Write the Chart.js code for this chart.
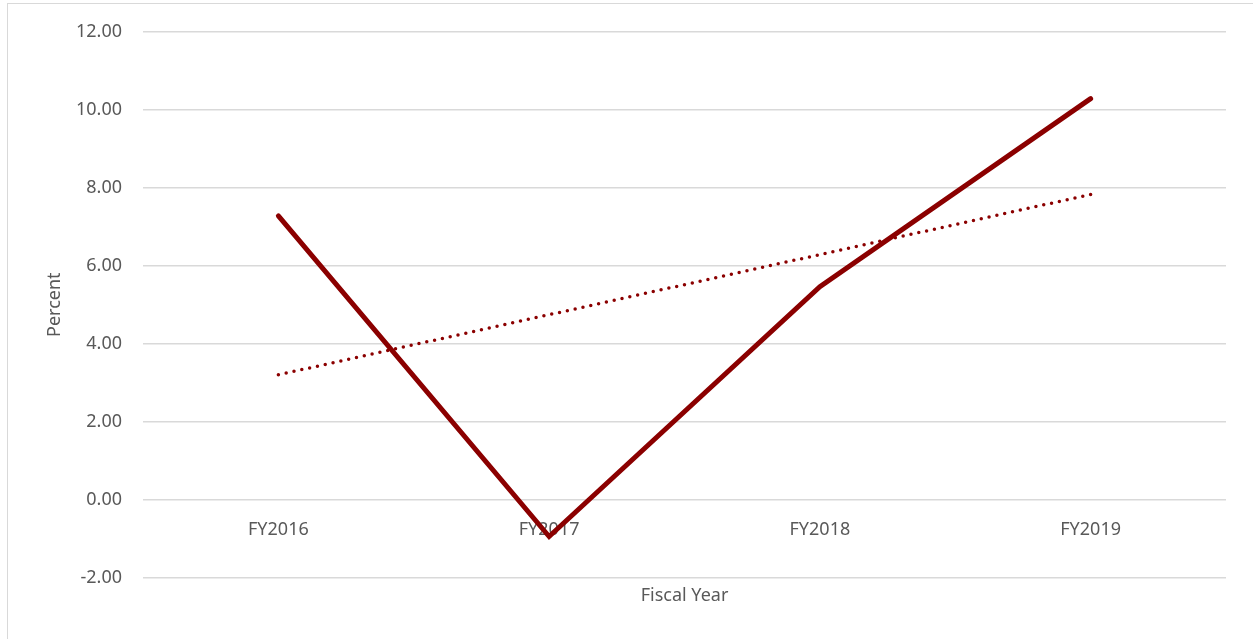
<!DOCTYPE html>
<html>
<head>
<meta charset="UTF-8">
<script src="https://cdn.jsdelivr.net/npm/chart.js@4.4.0/dist/chart.umd.min.js"></script>
<title>Percent by Fiscal Year</title>
<style>
  html, body { margin: 0; padding: 0; background: #fff; overflow: hidden; }
  #frame { position: absolute; left: 7px; top: 3px; width: 1260px; height: 650px; border: 1px solid #d9d9d9; }
  #wrap { position: absolute; left: 0; top: 0; width: 1253px; height: 639px; }
</style>
</head>
<body>
<div id="frame"></div>
<div id="wrap"><canvas id="chart"></canvas></div>
<script>
// values
var years = ["FY2016", "FY2017", "FY2018", "FY2019"];
var percent = [7.28, -0.95, 5.46, 10.29];
// linear trendline, only its two ends
var trend = [3.20, null, null, 7.83];

var grey = "#595959";
var red = "#8B0000";
Chart.defaults.font.family = "'Noto Sans', sans-serif";
Chart.defaults.font.size = 18;
Chart.defaults.color = grey;

new Chart(document.getElementById("chart"), {
    type: "line",
    data: {
        labels: years,
        datasets: [{
            label: "Percent",
            data: percent,
            borderColor: red,
            borderWidth: 5,
            borderCapStyle: "round",
            borderJoinStyle: "miter",
            pointRadius: 0,
            tension: 0,
            fill: false
        }, {
            label: "Trend",
            data: trend,
            spanGaps: true,
            borderColor: red,
            borderWidth: 3.5,
            borderDash: [0, 8],
            borderCapStyle: "round",
            pointRadius: 0,
            fill: false
        }]
    },
    options: {
        responsive: true,
        maintainAspectRatio: false,
        animation: false,
        layout: { padding: { left: 0, right: 27, top: 32, bottom: 32 } },
        plugins: {
            legend: { display: false },
            tooltip: { enabled: false }
        },
        scales: {
            x: {
                position: { y: 0 },
                offset: true,
                grid: { display: false, drawTicks: false },
                border: { display: false },
                ticks: { padding: 20, color: grey, maxRotation: 0 }
            },
            // bottom axis only carries the "Fiscal Year" title
            xTitle: {
                type: "category",
                labels: years,
                position: "bottom",
                offset: true,
                grid: { display: false, drawTicks: false },
                border: { display: false },
                ticks: { display: false },
                title: {
                    display: true,
                    text: "Fiscal Year",
                    color: grey,
                    font: { size: 18 },
                    padding: { top: 8, bottom: 0 }
                }
            },
            y: {
                min: -2,
                max: 12,
                grid: { color: "#d9d9d9", lineWidth: 1.5, drawTicks: false },
                border: { display: false },
                ticks: {
                    stepSize: 2,
                    padding: 21,
                    color: grey,
                    callback: function (v) { return v.toFixed(2); }
                },
                title: {
                    display: true,
                    text: "Percent",
                    color: grey,
                    font: { size: 18 },
                    padding: { top: 44, bottom: 0 }
                },
                afterFit: function (scale) { scale.width = 143; }
            }
        }
    }
});
</script>
</body>
</html>
